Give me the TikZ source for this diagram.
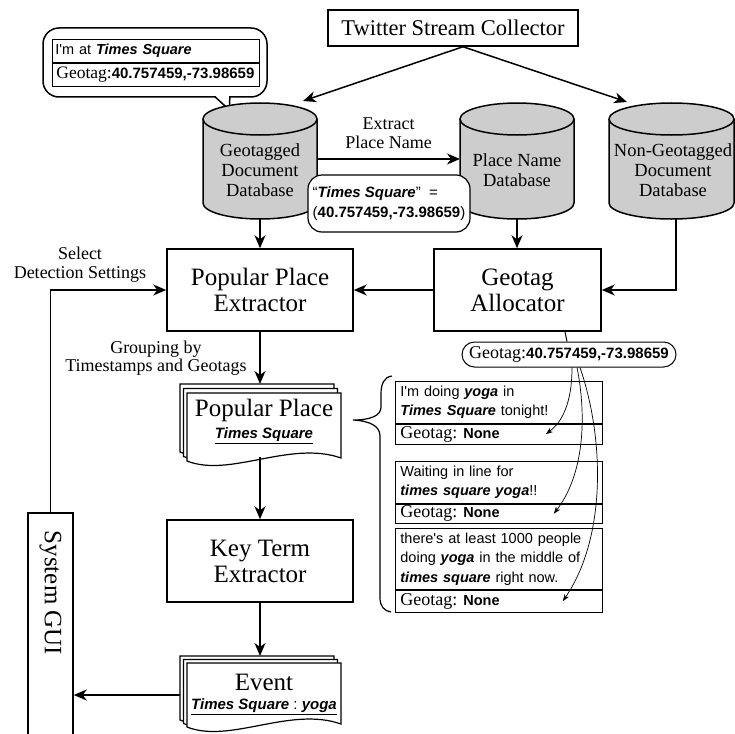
\documentclass[tikz,border=0pt]{standalone}
\usepackage{fontspec}
\setmainfont{Liberation Serif}
\newfontfamily\ssf{Liberation Sans}
\usetikzlibrary{arrows.meta}
\definecolor{cylgray}{RGB}{205,205,205}
\newcommand\bsi[1]{{\ssf\bfseries\itshape #1}}
\newcommand\bsn[1]{{\ssf\bfseries #1}}
\newcommand\fsz[2]{\fontsize{#1}{#2}\selectfont}
\newcommand\docsheet[3]{\filldraw[docst] (#1,#2) -- ++(154,0) -- ++(0,#3-3) .. controls +(-51,-18) and +(43,17) .. (#1,#2+#3) -- cycle;}
\begin{document}
\frenchspacing
\begin{tikzpicture}[x=1pt,y=-1pt,
 mainbox/.style={draw,line width=1.5pt,fill=white,align=center,inner sep=0pt,font=\fsz{25}{26}},
 lbl/.style={align=center,inner sep=0pt,font=\fsz{18}{19}},
 cyl/.style={draw,line width=1.5pt,fill=cylgray},
 cyltext/.style={align=center,inner sep=0pt,font=\fsz{18.5}{20}},
 arr/.style={line width=1.5pt,-{Stealth[length=13pt,width=11pt,inset=4pt]}},
 thinarr/.style={line width=0.7pt,-{Stealth[length=7pt,width=5pt,inset=2pt]}},
 docst/.style={draw,line width=1.2pt,fill=white},
 twtext/.style={draw,line width=0.8pt,anchor=north west,inner xsep=5pt,inner ysep=0pt,text width=197pt,align=left,font=\ssf\fsz{14.5}{19.5}},
 twgeo/.style={draw,line width=0.8pt,anchor=north west,inner xsep=5pt,inner ysep=0pt,text width=197pt,align=left,font=\fsz{18}{20}},
 hole/.style={inner sep=0pt,outer sep=0pt}
]
\useasboundingbox (0,0) rectangle (735,733);
\clip (0,0) rectangle (735,733);

% Twitter Stream Collector
\node[mainbox,font=\fsz{22.5}{24},minimum width=250pt,minimum height=36pt] (tsc) at (453,28) {Twitter Stream Collector};

% speech bubble
\node[draw,line width=1.5pt,rounded corners=16pt,fill=white,minimum width=224pt,minimum height=69pt] (bub) at (155,62.5) {};
\fill[white] (216,94.5) rectangle (229,99.5);
\draw[line width=1.5pt,line join=miter] (215.2,97) -- (229.5,110) -- (229.8,97);
\node[twtext,font=\ssf\fsz{14.5}{17},minimum height=23pt,inner xsep=3pt,text width=201pt] (bt) at (52,39) {I'm at \bsi{Times Square}};
\node[twgeo,font=\fsz{17.5}{19},minimum height=23pt,inner xsep=4pt,text width=199pt] (bg) at (bt.south west) {Geotag:\bsn{\fsz{15}{17}40.757459,-73.98659}};

% cylinders
\filldraw[cyl] (203,119) -- (203,203) arc[start angle=180,end angle=360,x radius=57pt,y radius=16pt] -- (317,119);
\filldraw[cyl] (260,119) ellipse[x radius=57pt,y radius=16pt];
\node[hole,minimum width=114pt,minimum height=116pt] (gdb) at (260,161) {};
\node[cyltext] at (260,170) {Geotagged\\Document\\Database};

\filldraw[cyl] (460,119) -- (460,203) arc[start angle=180,end angle=360,x radius=57pt,y radius=16pt] -- (574,119);
\filldraw[cyl] (517,119) ellipse[x radius=57pt,y radius=16pt];
\node[hole,minimum width=114pt,minimum height=116pt] (pdb) at (517,161) {};
\node[cyltext] at (517,170) {Place Name\\Database};

\filldraw[cyl] (609,119) -- (609,203) arc[start angle=180,end angle=360,x radius=62.5pt,y radius=16pt] -- (734,119);
\filldraw[cyl] (671.5,119) ellipse[x radius=62.5pt,y radius=16pt];
\node[hole,minimum width=125pt,minimum height=116pt] (ngdb) at (671.5,161) {};
\node[cyltext] at (673,170) {Non-Geotagged\\Document\\Database};

% extract arrow
\draw[arr] ([yshift=2pt]gdb.east) -- ([yshift=2pt]pdb.west) node[lbl,midway,above=10pt] {Extract\\Place Name};

% note
\node[draw,line width=1.2pt,rounded corners=14pt,fill=white,minimum width=162pt,minimum height=57pt,align=left,inner sep=2pt,font=\ssf\fsz{15}{20}] (note) at (389,203.5) {“\bsi{Times Square}” \ =\\(\textbf{40.757459,-73.98659})};

% main boxes
\node[mainbox,minimum width=186pt,minimum height=82pt] (ppe) at (260,290) {Popular Place\\Extractor};
\node[mainbox,minimum width=167pt,minimum height=82pt] (ga) at (517.5,290) {Geotag\\Allocator};
\node[mainbox,minimum width=186pt,minimum height=82pt] (kte) at (260,561) {Key Term\\Extractor};

% GUI
\node[draw,line width=1.5pt,fill=white,minimum width=45pt,minimum height=240pt,anchor=north,inner sep=0pt] (gui) at (50.5,512) {};
\node[rotate=-90,font=\fsz{25}{26},inner sep=0pt] at (50.5,593) {System GUI};

% documents
\docsheet{180}{384}{68}
\docsheet{183.5}{388.5}{68}
\docsheet{187}{393}{68}
\node[hole,anchor=north west,minimum width=154pt,minimum height=72pt] (ppdoc) at (180,384) {};
\node[font=\fsz{25}{26},inner sep=0pt] at (264,410) {Popular Place};
\node[font=\ssf\fsz{15}{17},inner sep=0pt] at (264,436) {\underline{\bsi{Times Square}}};

\docsheet{180}{656}{64}
\docsheet{183.5}{659.5}{64}
\docsheet{187}{663}{64}
\node[hole,anchor=north west,minimum width=154pt,minimum height=78pt] (evdoc) at (180,656) {};
\node[font=\fsz{25}{26},inner sep=0pt] at (264,682) {Event};
\node[font=\ssf\fsz{15}{17},inner sep=0pt] at (264,707) {\underline{\bsi{Times Square} : \bsi{yoga}}};

% arrows
\coordinate (tscout) at ([xshift=10pt]tsc.south);
\draw[arr] (tscout) -- ([xshift=-14pt,yshift=2pt]gdb.north east);
\draw[arr] (tscout) -- ([xshift=18pt,yshift=1pt]ngdb.north west);
\draw[arr] (gdb.south) -- (ppe.north);
\draw[arr] (pdb.south) -- (pdb.south |- ga.north);
\draw[arr] ([xshift=4.5pt]ngdb.south) |- (ga.east);
\draw[arr] (ga.west) -- (ppe.east);
\draw[arr] (gui.north) |- (ppe.west);
\node[lbl] at (80,265) {Select\\Detection Settings};
\draw[arr] (ppe.south) -- (ppe.south |- ppdoc.north);
\node[lbl,font=\fsz{18}{17.5}] at (156,358) {Grouping by\\Timestamps and Geotags};
\coordinate (ppbot) at (260,457);
\coordinate (evtop) at (260,656);
\draw[arr] (ppbot) -- (kte.north);
\draw[arr] (kte.south) -- (evtop);
\draw[arr] (evdoc.west) -- (gui.east |- evdoc.west);

% geotag oval
\node[draw,line width=1pt,rounded corners=12.5pt,fill=white,minimum width=214pt,minimum height=25pt,inner sep=0pt,font=\fsz{18}{20}] (geo) at (569,354.5) {Geotag:\bsn{\fsz{15}{17}40.757459,-73.98659}};
\draw[line width=1pt] ([xshift=47.5pt]ga.south) -- ([xshift=-2pt]geo.north);

% tweets
\node[twtext,minimum height=42pt] (t1) at (395,381) {I'm doing \bsi{yoga} in\\\bsi{Times Square} tonight!};
\node[twgeo,minimum height=20pt] (g1) at (t1.south west) {Geotag: \bsn{\fsz{14.5}{17}None}};
\node[twtext,minimum height=42pt] (t2) at (395,461) {Waiting in line for\\\bsi{times square yoga}!!};
\node[twgeo,minimum height=19pt] (g2) at (t2.south west) {Geotag: \bsn{\fsz{14.5}{17}None}};
\node[twtext,minimum height=61pt] (t3) at (395,528) {there's at least 1000 people\\doing \bsi{yoga} in the middle of\\\bsi{times square} right now.};
\node[twgeo,minimum height=22pt] (g3) at (t3.south west) {Geotag: \bsn{\fsz{14.5}{17}None}};

% brace
\draw[line width=1.2pt] (392,376) .. controls (384,377) and (381,384) .. (381,394) -- (381,407) .. controls (381,416) and (370,420) .. (353,420) .. controls (370,421) and (380,426) .. (380,436) -- (380,598) .. controls (380,606) and (384,611) .. (391,612);

% curved arrows
\draw[thinarr] ([xshift=3pt]geo.south) .. controls +(0,28) and +(20,-15) .. ([xshift=-57pt]g1.east);
\draw[thinarr] ([xshift=8pt]geo.south) .. controls +(10,50) and +(30,-39) .. ([xshift=-49pt]g2.east);
\draw[thinarr] ([xshift=11pt]geo.south) .. controls +(25,73) and +(43,-63) .. ([xshift=-40pt]g3.east);
\end{tikzpicture}
\end{document}
